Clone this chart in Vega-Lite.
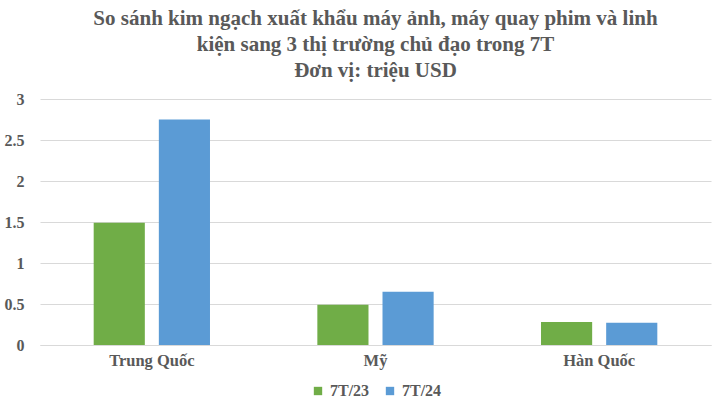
{
  "$schema": "https://vega.github.io/schema/vega-lite/v6.json",
  "width": 725,
  "height": 412,
  "autosize": {"type": "fit", "contains": "padding"},
  "padding": {"left": 4, "right": 14, "top": 8, "bottom": 13},
  "background": "white",
  "title": {
    "text": [
      "So sánh kim ngạch xuất khẩu máy ảnh, máy quay phim và linh",
      "kiện sang 3 thị trường chủ đạo trong 7T",
      "Đơn vị: triệu USD"
    ],
    "font": "Liberation Serif",
    "fontSize": 21,
    "fontWeight": "bold",
    "color": "#595959",
    "lineHeight": 26,
    "anchor": "middle",
    "offset": 10
  },
  "data": {
    "values": [
      {"market": "Trung Quốc", "period": "7T/23", "value": 1.49},
      {"market": "Trung Quốc", "period": "7T/24", "value": 2.75},
      {"market": "Mỹ", "period": "7T/23", "value": 0.49},
      {"market": "Mỹ", "period": "7T/24", "value": 0.65},
      {"market": "Hàn Quốc", "period": "7T/23", "value": 0.28},
      {"market": "Hàn Quốc", "period": "7T/24", "value": 0.27}
    ]
  },
  "mark": {"type": "bar"},
  "encoding": {
    "x": {
      "field": "market",
      "type": "nominal",
      "sort": ["Trung Quốc", "Mỹ", "Hàn Quốc"],
      "scale": {"paddingInner": 0.48, "paddingOuter": 0.24},
      "axis": {
        "title": null,
        "labelAngle": 0,
        "labelFont": "Liberation Serif",
        "labelFontSize": 16.5,
        "labelFontWeight": "bold",
        "labelColor": "#595959",
        "labelPadding": 7,
        "ticks": false,
        "domainColor": "#d9d9d9"
      }
    },
    "xOffset": {
      "field": "period",
      "type": "nominal",
      "scale": {"paddingInner": 0.215, "paddingOuter": 0}
    },
    "y": {
      "field": "value",
      "type": "quantitative",
      "scale": {"domain": [0, 3]},
      "axis": {
        "title": null,
        "values": [0, 0.5, 1, 1.5, 2, 2.5, 3],
        "format": "~g",
        "labelFont": "Liberation Serif",
        "labelFontSize": 16,
        "labelFontWeight": "bold",
        "labelColor": "#595959",
        "labelPadding": 16,
        "ticks": false,
        "domain": false,
        "gridColor": "#d9d9d9"
      }
    },
    "color": {
      "field": "period",
      "type": "nominal",
      "scale": {"domain": ["7T/23", "7T/24"], "range": ["#70ad47", "#5b9bd5"]},
      "legend": {
        "title": null,
        "orient": "bottom",
        "direction": "horizontal",
        "symbolType": "square",
        "symbolSize": 70,
        "symbolStrokeWidth": 0,
        "labelFont": "Liberation Serif",
        "labelFontSize": 16,
        "labelFontWeight": "bold",
        "labelColor": "#595959",
        "columnPadding": 12,
        "offset": 14
      }
    }
  },
  "config": {
    "view": {"stroke": null},
    "legend": {"layout": {"bottom": {"anchor": "middle"}}}
  }
}
